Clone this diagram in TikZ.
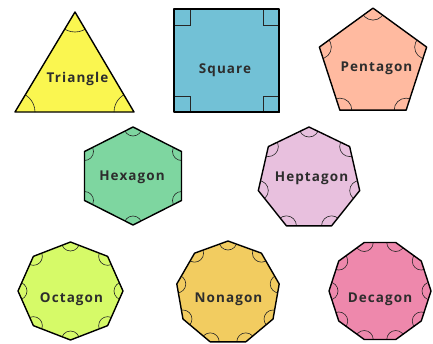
\documentclass[tikz,border=0pt]{standalone}
\usepackage{fontspec}
\setmainfont{Open Sans}[LetterSpace=8]
\definecolor{ctri}{RGB}{250,246,80}
\definecolor{csq}{RGB}{114,193,214}
\definecolor{cpen}{RGB}{255,186,160}
\definecolor{chex}{RGB}{126,214,160}
\definecolor{chep}{RGB}{232,192,222}
\definecolor{coct}{RGB}{214,250,104}
\definecolor{cnon}{RGB}{242,204,96}
\definecolor{cdec}{RGB}{238,136,172}
\definecolor{ctext}{RGB}{45,45,45}
\tikzset{
  edge/.style={draw=black,line width=1.4pt,line join=round},
  anglemark/.style={draw=black!85,line width=0.6pt},
  lbl/.style={anchor=base,font=\bfseries\fontsize{13.5}{16}\selectfont,text=ctext,inner sep=0pt}
}
% #1 name, #2 cx, #3 cy, #4 rx, #5 ry, #6 n, #7 start angle, #8 colour, #9 arc radius
\newcommand\mypoly[9]{%
  \pgfmathtruncatemacro\mylast{#6-1}%
  \foreach \k in {0,...,\mylast}{
    \coordinate (#1-\k) at ({#2+#4*cos(#7+360*\k/#6)},{#3-#5*sin(#7+360*\k/#6)});
  }
  \begin{scope}
    \clip (#1-0) \foreach \k in {1,...,\mylast}{ -- (#1-\k)} -- cycle;
    \fill[#8] (#1-0) \foreach \k in {1,...,\mylast}{ -- (#1-\k)} -- cycle;
    \foreach \k in {0,...,\mylast}{ \draw[anglemark] (#1-\k) circle (#9); }
  \end{scope}
  \draw[edge] (#1-0) \foreach \k in {1,...,\mylast}{ -- (#1-\k)} -- cycle;
}
\begin{document}
\begin{tikzpicture}[x=1pt,y=-1pt]
\useasboundingbox (0,0) rectangle (433,343);
% Triangle
\coordinate (t0) at (75,12);
\coordinate (t1) at (134,112);
\coordinate (t2) at (15,112);
\begin{scope}
  \clip (t0) -- (t1) -- (t2) -- cycle;
  \fill[ctri] (t0) -- (t1) -- (t2) -- cycle;
  \foreach \p in {t0,t1,t2}{ \draw[anglemark] (\p) circle (20); }
\end{scope}
\draw[edge] (t0) -- (t1) -- (t2) -- cycle;
% Square
\coordinate (s0) at (174,9);
\coordinate (s1) at (279,112);
\fill[csq] (s0) rectangle (s1);
\draw[anglemark] (174,9) rectangle ++(16,16);
\draw[anglemark] (279,9) rectangle ++(-16,16);
\draw[anglemark] (174,112) rectangle ++(16,-16);
\draw[anglemark] (279,112) rectangle ++(-16,-16);
\draw[edge] (s0) rectangle (s1);
% Regular-ish polygons
\mypoly{pen}{373}{64.5}{56.4}{56.4}{5}{90}{cpen}{12}
\mypoly{hex}{133}{176}{56}{49}{6}{90}{chex}{9}
\mypoly{hep}{309}{179}{52}{52}{7}{90}{chep}{10}
\mypoly{oct}{70.5}{291}{52.5}{49}{8}{90}{coct}{9}
\mypoly{non}{228}{293}{52}{52}{9}{90}{cnon}{9}
\mypoly{dec}{380}{291}{51}{51}{10}{0}{cdec}{9}
% Labels
\node[lbl] (ltri) at (77.5,82) {Triangle};
\node[lbl] (lsq) at (225,73) {Square};
\node[lbl] (lpen) at (376.5,71) {Pentagon};
\node[lbl] (lhex) at (132,180) {Hexagon};
\node[lbl] (lhep) at (311.5,181) {Heptagon};
\node[lbl] (loct) at (71.5,302) {Octagon};
\node[lbl] (lnon) at (228.5,302) {Nonagon};
\node[lbl] (ldec) at (380,302) {Decagon};
\end{tikzpicture}
\end{document}
